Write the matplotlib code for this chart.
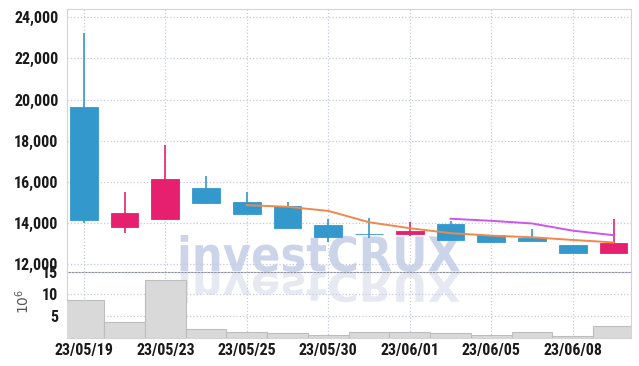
import numpy as np
import matplotlib
matplotlib.use("Agg")
import matplotlib.pyplot as plt
from matplotlib.textpath import TextPath
from matplotlib.patches import PathPatch
from matplotlib.font_manager import FontProperties, fontManager
from matplotlib.transforms import Affine2D, IdentityTransform
from matplotlib.ticker import FuncFormatter

# daily candles (KRW)
dates = ["23/05/19", "23/05/22", "23/05/23", "23/05/24", "23/05/25", "23/05/26", "23/05/30",
         "23/05/31", "23/06/01", "23/06/02", "23/06/05", "23/06/07", "23/06/08", "23/06/09"]
open_ = [19660, 13800, 14200, 15720, 15050, 14850, 13920, 13500, 13500, 13970, 13420, 13300, 12950, 12550]
close = [14160, 14500, 16150, 15000, 14460, 13760, 13350, 13460, 13630, 13200, 13110, 13150, 12550, 13050]
high = [23220, 15500, 17790, 16300, 15500, 15050, 14200, 14280, 14050, 14100, 13450, 13720, 12950, 14200]
low = [14030, 13520, 14150, 14930, 14460, 13700, 13080, 13270, 13400, 13200, 13100, 13150, 12550, 12550]
volume = [8.6, 3.5, 13.3, 1.9, 1.2, 1.05, 0.55, 1.2, 1.2, 0.98, 0.67, 1.27, 0.45, 2.77]  # x 10^6
ma5 = [np.nan] * 4 + [14880, 14800, 14600, 14050, 13760, 13520, 13400, 13320, 13190, 13070]
ma10 = [np.nan] * 9 + [14220, 14120, 13990, 13640, 13420]

UP = "#e6206e"
DOWN = "#3399cc"
GRID = "#c5cadc"

# narrow font for the tick labels, whichever is installed
installed = {f.name for f in fontManager.ttflist}
if "Roboto Condensed" in installed:
    tick_font = dict(family="Roboto Condensed", weight="bold", size=11.5)
elif "Liberation Sans Narrow" in installed:
    tick_font = dict(family="Liberation Sans Narrow", weight="bold", size=11.5)
else:
    tick_font = dict(family="Liberation Sans", weight="bold", size=9.6)

fig = plt.figure(figsize=(6.39, 3.66), dpi=100, facecolor="white")
ax = fig.add_axes([0.1044, 0.256, 0.8826, 0.7194], facecolor="none")
axv = fig.add_axes([0.1044, 0.0773, 0.8826, 0.1787], facecolor="none", sharex=ax)

x = np.arange(len(dates))
colors = [UP if c >= o else DOWN for o, c in zip(open_, close)]
bottoms = np.minimum(open_, close)
heights = np.maximum(np.abs(np.array(close) - np.array(open_)), 25)

ax.vlines(x, low, high, colors=colors, lw=1.2, zorder=3)
ax.bar(x, heights, bottom=bottoms, width=0.68, color=colors, edgecolor=colors, lw=0.6, zorder=4)
ax.plot(x, ma5, color="#f0884a", lw=1.4, zorder=5)
ax.plot(x, ma10, color="#cc55ee", lw=1.4, zorder=5)

ax.set_xlim(-0.42, 13.42)
ax.set_ylim(11620, 24400)
ax.set_yticks(range(12000, 24001, 2000))
ax.yaxis.set_major_formatter(FuncFormatter(lambda v, p: f"{int(v):,}"))
ax.tick_params(axis="x", labelbottom=False, length=0)
ax.tick_params(axis="y", length=0, pad=6)
ax.grid(True, color=GRID, ls=":", lw=0.9)
ax.set_axisbelow(True)
for s in ["top", "right", "left"]:
    ax.spines[s].set_color("#d4d4d8")
ax.spines["bottom"].set_color("#909098")
ax.spines["bottom"].set_linestyle((0, (2, 1)))

axv.bar(x, volume, width=1.0, color="#d9d9d9", edgecolor="#bdbdbd", lw=0.8, zorder=3)
axv.set_ylim(0, 15)
axv.set_yticks([5, 10, 15])
axv.set_xticks(x[::2])
axv.set_xticklabels(dates[::2])
axv.tick_params(length=0)
axv.tick_params(axis="y", pad=6)
axv.tick_params(axis="x", pad=4)
axv.grid(True, color=GRID, ls=":", lw=0.9)
axv.set_axisbelow(True)
for s in ["right", "left", "bottom"]:
    axv.spines[s].set_color("#d4d4d8")
axv.spines["top"].set_visible(False)
axv.set_ylabel(r"$10^6$", fontsize=10, color="#555555")
axv.yaxis.set_label_coords(-0.062, 0.55)

for lab in ax.get_yticklabels() + axv.get_yticklabels() + axv.get_xticklabels():
    lab.set_fontproperties(FontProperties(**tick_font))
    lab.set_color("#1a1a1a")

# watermark with reflection, in figure pixels
tp = TextPath((0, 0), "investCRUX", size=50,
              prop=FontProperties(family="DejaVu Sans", weight="bold"))
v = tp.vertices
x0, y0 = v[:, 0].min(), v[:, 1].min()
w, h = v[:, 0].max() - x0, v[:, 1].max() - y0
main_tr = Affine2D().translate(-x0, -y0).scale(283 / w, 37 / h).translate(177, 94)
refl_tr = Affine2D().translate(-x0, -y0).scale(283 / w, -31 / h).translate(177, 94)
for path, col in [(main_tr.transform_path(tp), "#ccd4e9"), (refl_tr.transform_path(tp), "#e6e9f2")]:
    fig.add_artist(PathPatch(path, facecolor=col, lw=0, zorder=-1, transform=IdentityTransform()))

fig.savefig("out.png", dpi=100, facecolor="white")
